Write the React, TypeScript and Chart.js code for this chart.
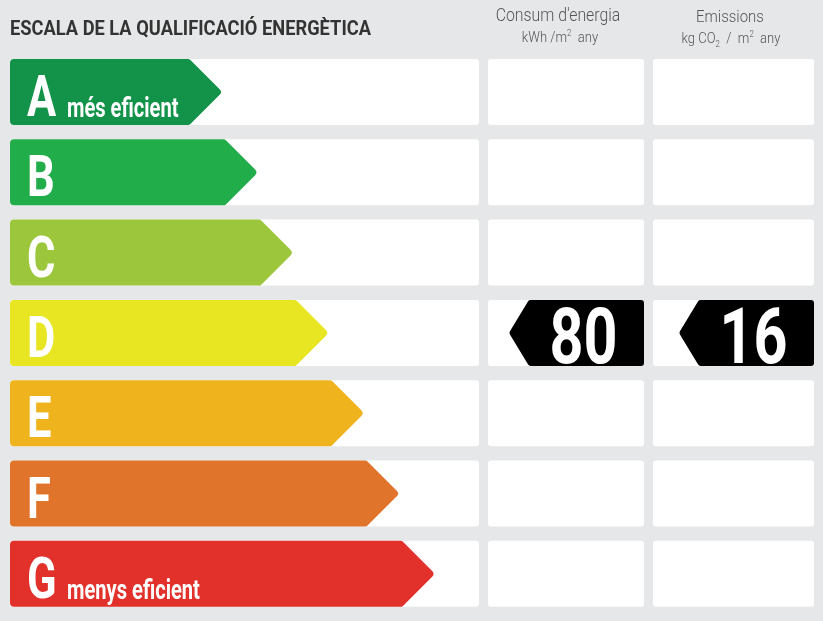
import React, { useEffect, useRef } from 'react';

import Chart from 'chart.js/auto';

const classes = ['A', 'B', 'C', 'D', 'E', 'F', 'G'];
const arrowSteps = [6, 7, 8, 9, 10, 11, 12];
const classColors = ['#13924a', '#22ad4b', '#9cc73c', '#e8e522', '#efb41d', '#e1742b', '#e2302b'];
const classNotes = ['més eficient', '', '', '', '', '', 'menys eficient'];
const ratedClass = 'D';
const consumption = 80;
const emissions = 16;

// white panels behind each row (left, right in px)
const panelCols = [
  [10, 479],
  [488, 644],
  [653, 814],
];

const roundedPoly = (ctx: CanvasRenderingContext2D, pts: number[][], r: number) => {
  const n = pts.length;
  ctx.beginPath();
  ctx.moveTo((pts[n - 1][0] + pts[0][0]) / 2, (pts[n - 1][1] + pts[0][1]) / 2);
  for (let i = 0; i < n; i++) {
    const p = pts[i];
    const q = pts[(i + 1) % n];
    ctx.arcTo(p[0], p[1], q[0], q[1], r);
  }
  ctx.closePath();
};

const condensedText = (
  ctx: CanvasRenderingContext2D,
  text: string,
  x: number,
  y: number,
  font: string,
  sx: number,
  align: CanvasTextAlign = 'left'
) => {
  ctx.save();
  ctx.translate(x, y);
  ctx.scale(sx, 1);
  ctx.font = font;
  ctx.textAlign = align;
  ctx.textBaseline = 'alphabetic';
  ctx.fillText(text, 0, 0);
  ctx.restore();
};

const energyLabel = {
  id: 'energyLabel',
  beforeDatasetsDraw(chart: any) {
    const { ctx } = chart;
    const meta = chart.getDatasetMeta(0);
    ctx.save();
    ctx.fillStyle = '#ffffff';
    meta.data.forEach((bar: any) => {
      const { y, height } = bar.getProps(['y', 'height'], true);
      panelCols.forEach(([l, r]) => {
        roundedPoly(ctx, [[l, y - height / 2], [r, y - height / 2], [r, y + height / 2], [l, y + height / 2]], 3);
        ctx.fill();
      });
    });
    ctx.restore();
  },
  afterDatasetsDraw(chart: any) {
    const { ctx } = chart;
    const meta = chart.getDatasetMeta(0);
    meta.data.forEach((bar: any, i: number) => {
      const { x, y, base, height } = bar.getProps(['x', 'y', 'base', 'height'], true);
      const top = y - height / 2;
      const bottom = y + height / 2;
      const h2 = height / 2;
      ctx.save();
      ctx.fillStyle = classColors[i];
      roundedPoly(ctx, [[base, top], [x - h2, top], [x, y], [x - h2, bottom], [base, bottom]], 4);
      ctx.fill();
      ctx.fillStyle = '#ffffff';
      condensedText(ctx, classes[i], base + 17, y + 24, 'bold 58px Roboto', 0.75);
      if (classNotes[i]) {
        condensedText(ctx, classNotes[i], base + 57, y + 25, 'bold 27px Roboto', 0.745);
      }
      ctx.restore();
    });

    // rating markers in the value columns
    const idx = classes.indexOf(ratedClass);
    const bar = meta.data[idx];
    const { y, height } = bar.getProps(['y', 'height'], true);
    const top = y - height / 2;
    const bottom = y + height / 2;
    const values = [consumption, emissions];
    [panelCols[1], panelCols[2]].forEach(([, r], k) => {
      const bodyL = r - 115;
      const tip = bodyL - 20;
      ctx.save();
      ctx.fillStyle = '#000000';
      roundedPoly(ctx, [[tip, y], [bodyL, top], [r, top], [r, bottom], [bodyL, bottom]], 3);
      ctx.fill();
      ctx.fillStyle = '#ffffff';
      condensedText(ctx, String(values[k]), (bodyL + r) / 2 - 3, bottom - 3, 'bold 78px Roboto', 0.76, 'center');
      ctx.restore();
    });
  },
};

const headStyle: React.CSSProperties = {
  position: 'absolute',
  fontFamily: 'Roboto, sans-serif',
  whiteSpace: 'nowrap',
  lineHeight: 1,
};

const EnergyLabel = () => {
  const canvasRef = useRef<HTMLCanvasElement>(null);

  useEffect(() => {
    const canvas = canvasRef.current;
    let chart: Chart | null = null;

    if (canvas) {
      chart = new Chart(canvas, {
        type: 'bar',
        data: {
          labels: classes,
          datasets: [
            {
              label: 'Qualificació',
              data: arrowSteps,
              backgroundColor: 'rgba(0,0,0,0)',
              barPercentage: 0.822,
              categoryPercentage: 1,
            },
          ],
        },
        options: {
          indexAxis: 'y',
          animation: false,
          responsive: false,
          layout: { padding: { left: 10, right: 9, top: 51.85, bottom: 7.05 } },
          scales: {
            x: { type: 'linear', min: 0, max: 22.7, display: false },
            y: { display: false },
          },
          plugins: {
            legend: { display: false },
            tooltip: { enabled: false },
          },
        },
        plugins: [energyLabel],
      });
    }

    return () => {
      if (chart) {
        chart.destroy();
      }
    };
  }, []);

  return (
    <div style={{ position: 'absolute', left: 0, top: 0, width: 823, height: 621, background: '#e6e7e8' }}>
      <canvas ref={canvasRef} width={823} height={621} style={{ position: 'absolute', left: 0, top: 0 }}></canvas>
      <div
        style={{
          ...headStyle,
          left: 10,
          top: 18,
          fontSize: 21,
          fontWeight: 700,
          color: '#333333',
          transform: 'scaleX(0.87)',
          transformOrigin: 'left',
        }}
      >
        ESCALA DE LA QUALIFICACIÓ ENERGÈTICA
      </div>
      <div style={{ ...headStyle, left: 458, width: 200, textAlign: 'center', top: 5.5, fontSize: 18, fontWeight: 300, color: '#555555', transform: 'scaleX(0.88)' }}>
        Consum d'energia
      </div>
      <div style={{ ...headStyle, left: 460, width: 200, textAlign: 'center', top: 29.5, fontSize: 15, fontWeight: 300, color: '#555555', transform: 'scaleX(0.87)' }}>
        kWh /m<sup style={{ fontSize: 9, lineHeight: 0 }}>2</sup>&nbsp; any
      </div>
      <div style={{ ...headStyle, left: 630, width: 200, textAlign: 'center', top: 7.5, fontSize: 17, fontWeight: 300, color: '#555555', transform: 'scaleX(0.88)' }}>
        Emissions
      </div>
      <div style={{ ...headStyle, left: 631, width: 200, textAlign: 'center', top: 30.5, fontSize: 15, fontWeight: 300, color: '#555555', transform: 'scaleX(0.87)' }}>
        kg CO<sub style={{ fontSize: 9, lineHeight: 0 }}>2</sub>&nbsp; /&nbsp; m<sup style={{ fontSize: 9, lineHeight: 0 }}>2</sup>&nbsp; any
      </div>
    </div>
  );
};

export default EnergyLabel;
